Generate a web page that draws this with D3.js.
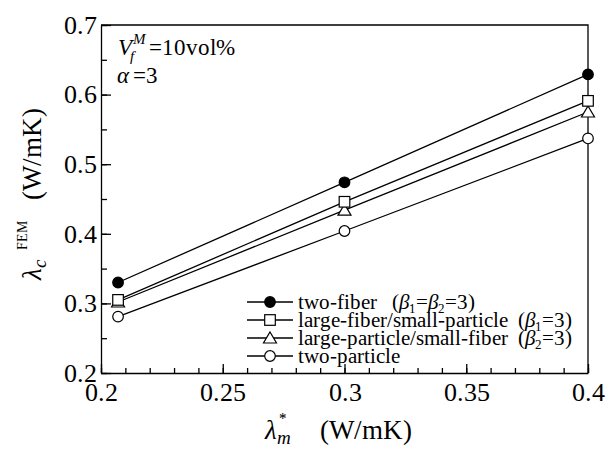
<!DOCTYPE html>
<html>
<head>
<meta charset="utf-8">
<script src="https://cdn.jsdelivr.net/npm/d3@7/dist/d3.min.js"></script>
<style>
  @font-face { font-family: "ChartSerif"; font-style: normal; font-weight: 400;
    src: local("Liberation Serif"), local("LiberationSerif"), local("Tinos"), local("Times New Roman"); }
  @font-face { font-family: "ChartSerif"; font-style: italic; font-weight: 400;
    src: local("Liberation Serif Italic"), local("LiberationSerif-Italic"), local("Tinos Italic"), local("Times New Roman Italic"); }
</style>
</head>
<body style="margin:0">
<script>
// data
var xValues = [0.207, 0.3, 0.4];
var seriesNames = ["two-fiber", "large-fiber/small-particle", "large-particle/small-fiber", "two-particle"];
var twoFiber = [0.330, 0.474, 0.629];
var largeFiberSmallParticle = [0.305, 0.446, 0.591];
var largeParticleSmallFiber = [0.302, 0.434, 0.575];
var twoParticle = [0.281, 0.404, 0.537];
var xTicks = [0.2, 0.25, 0.3, 0.35, 0.4];
var yTicks = [0.2, 0.3, 0.4, 0.5, 0.6, 0.7];

var opts = {
    width: 609,
    height: 449,
    left: 101,
    right: 588,
    top: 25,
    bottom: 373,
    font: "ChartSerif, 'Liberation Serif', 'Times New Roman', serif"
};

var series = [
    {name: seriesNames[0], values: twoFiber, marker: "fcircle", note: [["\u00a0\u00a0\u00a0(", ""], ["β", "i"], ["1", "sub"], ["=", ""], ["β", "i"], ["2", "sub"], ["=3)", ""]]},
    {name: seriesNames[1], values: largeFiberSmallParticle, marker: "square", note: [["\u00a0\u00a0(", ""], ["β", "i"], ["1", "sub"], ["=3)", ""]]},
    {name: seriesNames[2], values: largeParticleSmallFiber, marker: "triangle", note: [["\u00a0\u00a0(", ""], ["β", "i"], ["2", "sub"], ["=3)", ""]]},
    {name: seriesNames[3], values: twoParticle, marker: "circle", note: []}
];

var svg = d3.select("body").append("svg")
    .attr("width", opts.width)
    .attr("height", opts.height)
    .style("font-family", opts.font);

function addText(parent) {
    return parent.append("text").style("font-family", opts.font);
}

var x = d3.scaleLinear().domain([0.2, 0.4]).range([opts.left, opts.right]);
var y = d3.scaleLinear().domain([0.2, 0.7]).range([opts.bottom, opts.top]);

function styleAxis(g) {
    g.attr("font-family", null).style("font-family", opts.font);
    g.selectAll("path, line").attr("stroke", "#000").attr("stroke-width", 1.3);
    g.selectAll("text").attr("fill", "#000").attr("font-size", 26).style("font-family", opts.font);
}

// minor ticks
svg.append("g")
    .attr("transform", "translate(0," + opts.bottom + ")")
    .call(d3.axisBottom(x).tickValues(d3.range(21).map(function(i){ return 0.2 + i * 0.01; }))
        .tickSize(-5).tickFormat(""))
    .call(styleAxis)
    .select(".domain").remove();
svg.append("g")
    .attr("transform", "translate(" + opts.left + ",0)")
    .call(d3.axisLeft(y).tickValues(d3.range(11).map(function(i){ return 0.2 + i * 0.05; }))
        .tickSize(-6).tickFormat(""))
    .call(styleAxis)
    .select(".domain").remove();

// major ticks
svg.append("g")
    .attr("transform", "translate(0," + opts.bottom + ")")
    .call(d3.axisBottom(x).tickValues(xTicks).tickSizeInner(-9).tickSizeOuter(0)
        .tickPadding(10).tickFormat(function(d){ return String(+d.toFixed(2)); }))
    .call(styleAxis);
svg.append("g")
    .attr("transform", "translate(" + opts.left + ",0)")
    .call(d3.axisLeft(y).tickValues(yTicks).tickSizeInner(-10).tickSizeOuter(0)
        .tickPadding(4).tickFormat(d3.format(".1f")))
    .call(styleAxis);

// frame
svg.append("path")
    .attr("d", "M" + opts.left + "," + opts.top + "H" + opts.right + "V" + opts.bottom)
    .attr("fill", "none").attr("stroke", "#000").attr("stroke-width", 1.3);

var line = d3.line()
    .x(function(d, i){ return x(xValues[i]); })
    .y(function(d){ return y(d); });

function drawMarker(g, type, cx, cy) {
    if (type === "fcircle" || type === "circle") {
        g.append("circle").attr("cx", cx).attr("cy", cy).attr("r", 5.3)
            .attr("fill", type === "fcircle" ? "#000" : "#fff")
            .attr("stroke", "#000").attr("stroke-width", 1.2);
    } else if (type === "square") {
        g.append("rect").attr("x", cx - 5.3).attr("y", cy - 5.3).attr("width", 10.6).attr("height", 10.6)
            .attr("fill", "#fff").attr("stroke", "#000").attr("stroke-width", 1.2);
    } else {
        g.append("path")
            .attr("d", "M" + cx + "," + (cy - 6) + "L" + (cx + 6.5) + "," + (cy + 5) + "L" + (cx - 6.5) + "," + (cy + 5) + "Z")
            .attr("fill", "#fff").attr("stroke", "#000").attr("stroke-width", 1.2);
    }
}

series.forEach(function(s){
    svg.append("path")
        .datum(s.values)
        .attr("d", line)
        .attr("fill", "none").attr("stroke", "#000").attr("stroke-width", 1.3);
});
// bottom series first so the upper ones sit on top
series.slice().reverse().forEach(function(s){
    var g = svg.append("g");
    s.values.forEach(function(v, i){ drawMarker(g, s.marker, x(xValues[i]), y(v)); });
});

// legend
var legend = svg.append("g");
series.forEach(function(s, i){
    var ly = 302 + i * 18;
    legend.append("line").attr("x1", 247).attr("x2", 293).attr("y1", ly).attr("y2", ly)
        .attr("stroke", "#000").attr("stroke-width", 1.3);
    drawMarker(legend, s.marker, 270, ly);
    var t = addText(legend).attr("x", 298).attr("y", ly + 6.5).attr("font-size", 20.5);
    t.append("tspan").text(s.name);
    var lastSub = false;
    s.note.forEach(function(p){
        var ts = t.append("tspan").text(p[0]);
        if (p[1] === "i") ts.attr("font-style", "italic");
        if (p[1] === "sub") { ts.attr("font-size", 13).attr("dy", 4); }
        else if (lastSub) ts.attr("dy", -4);
        lastSub = p[1] === "sub";
    });
});

// annotation
var a1 = addText(svg).attr("x", 118).attr("y", 55).attr("font-size", 23);
a1.append("tspan").attr("font-style", "italic").text("V");
a1.append("tspan").attr("font-style", "italic").attr("font-size", 15).attr("dy", 6).attr("dx", -2).text("f");
a1.append("tspan").attr("font-style", "italic").attr("font-size", 15).attr("dy", -17).attr("dx", -1).text("M");
a1.append("tspan").attr("dy", 11).attr("dx", 3).text("=10vol%");
var a2 = addText(svg).attr("x", 117).attr("y", 83).attr("font-size", 23);
a2.append("tspan").attr("font-style", "italic").text("α");
a2.append("tspan").attr("dx", 4).text("=3");

// x axis title
var xt = addText(svg).attr("x", 265).attr("y", 439).attr("font-size", 27);
xt.append("tspan").attr("font-style", "italic").text("λ");
xt.append("tspan").attr("font-style", "italic").attr("font-size", 19).attr("dy", 5).text("m");
xt.append("tspan").attr("font-size", 15).attr("dx", -12).attr("dy", -21).text("*");
xt.append("tspan").attr("x", 320).attr("dy", 16).text("(W/mK)");

// y axis title
var yt = addText(svg).attr("transform", "translate(41,0) rotate(-90)")
    .attr("x", -280).attr("font-size", 27);
yt.append("tspan").attr("font-style", "italic").text("λ");
yt.append("tspan").attr("font-style", "italic").attr("font-size", 19).attr("dy", 5).text("c");
yt.append("tspan").attr("font-size", 14).attr("x", -250).attr("dy", -19).text("FEM");
yt.append("tspan").attr("x", -200).attr("dy", 14).text("(W/mK)");
</script>
</body>
</html>
